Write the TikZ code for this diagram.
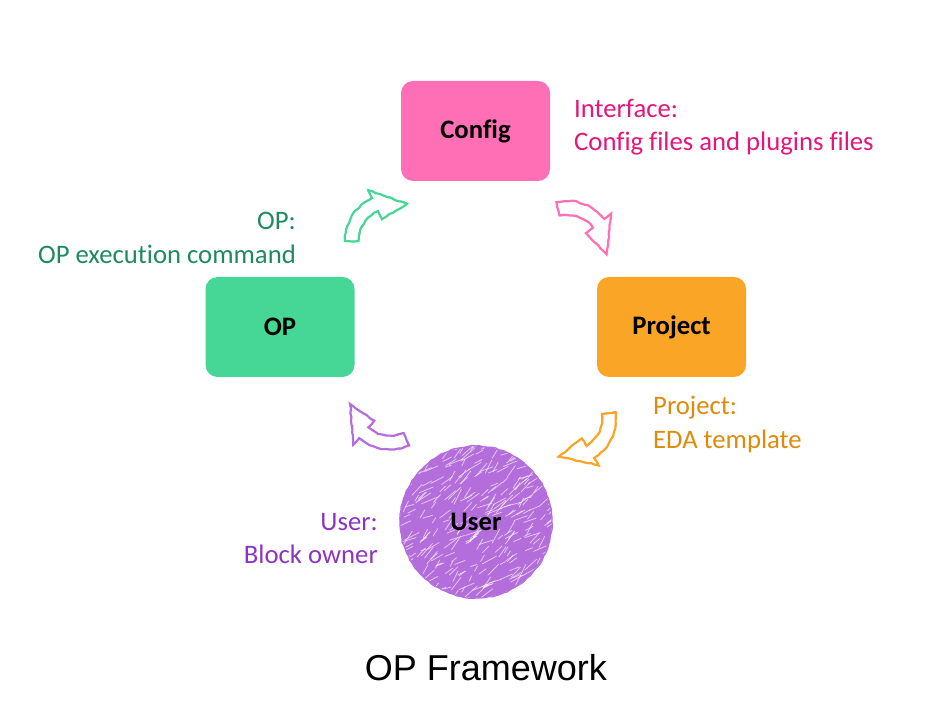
\documentclass[tikz,border=0pt]{standalone}
\usepackage{fontspec}
\setmainfont[Ligatures=CommonOff]{Carlito}
\newfontfamily\titlefont{Liberation Sans}
\usetikzlibrary{decorations.pathmorphing}
\definecolor{cfgpink}{HTML}{FF6FB5}
\definecolor{opgreen}{HTML}{46D695}
\definecolor{projorange}{HTML}{FBA526}
\definecolor{userpurple}{HTML}{B46EDB}
\definecolor{cfgtext}{HTML}{E6157A}
\definecolor{optext}{HTML}{1F8A5E}
\definecolor{projtext}{HTML}{DE8A0A}
\definecolor{usertext}{HTML}{8E34C4}
\tikzset{
  box/.style={rounded corners=12pt, minimum width=149pt, minimum height=100pt,
    font=\fontsize{26.7}{32}\selectfont\bfseries},
  note/.style={inner sep=0pt, font=\fontsize{26.7}{33.5}\selectfont},
  sketchy/.style={decorate, decoration={random steps, segment length=4pt, amplitude=0.6pt}},
  pics/bendarrow/.style={code={
    \path[sketchy, fill=white, draw=#1, line width=2.2pt,
      postaction={draw=#1, line width=0.8pt, opacity=0.7, decorate,
        decoration={random steps, segment length=3pt, amplitude=1.2pt}}]
      (180:47) arc[start angle=180, end angle=115, radius=47] -- (115:56)
      -- (68:40) -- (115:24) -- (115:33)
      arc[start angle=115, end angle=180, radius=33] -- cycle;
  }}
}
\begin{document}
\begin{tikzpicture}[x=1pt, y=1pt]
  \useasboundingbox (0,0) rectangle (930,718);

  \node[box, fill=cfgpink] (config) at (475.5,587) {Config};
  \node[box, fill=opgreen] (op) at (280,391) {OP};
  \node[box, fill=projorange] (project) at (671.5,391) {Project};

  % scribbled user circle
  \fill[userpurple] (476,196) circle[radius=76];
  \begin{scope}
    \clip (476,196) circle[radius=76];
    \pgfmathsetseed{11}
    \foreach \i in {1,...,320} {
      \pgfmathsetmacro{\hx}{476+78*rand}
      \pgfmathsetmacro{\hy}{196+78*rand}
      \pgfmathsetmacro{\ha}{40+25*rand}
      \pgfmathsetmacro{\hl}{12+6*rand}
      \draw[white, line width=0.8pt, opacity=0.6] (\hx,\hy) -- ++(\ha:\hl);
    }
  \end{scope}
  \draw[userpurple, sketchy, line width=1.2pt] (476,196) circle[radius=76];
  \node[circle, minimum size=152pt, font=\fontsize{26.7}{32}\selectfont\bfseries] (user) at (476,196) {User};

  \node[note, text=cfgtext, align=left, anchor=north west] (cfgnote) at (574,619) {Interface:\\Config files and plugins files};
  \node[note, text=optext, align=right, anchor=north east] (opnote) at (296,506) {OP:\\OP execution command};
  \node[note, text=projtext, align=left, anchor=north west] (projnote) at (653,322) {Project:\\EDA template};
  \node[note, text=usertext, align=right, anchor=north east] (usernote) at (378,205) {User:\\Block owner};

  \pic[rotate=0] at (392,477) {bendarrow=opgreen};
  \pic[rotate=-77] at (567,470) {bendarrow=cfgpink};
  \pic[rotate=187] at (569,300) {bendarrow=projorange};
  \pic[rotate=114] at (390,315.5) {bendarrow=userpurple};

  \node[font=\titlefont\fontsize{36}{40}\selectfont] (title) at (486,50) {OP Framework};
\end{tikzpicture}
\end{document}
